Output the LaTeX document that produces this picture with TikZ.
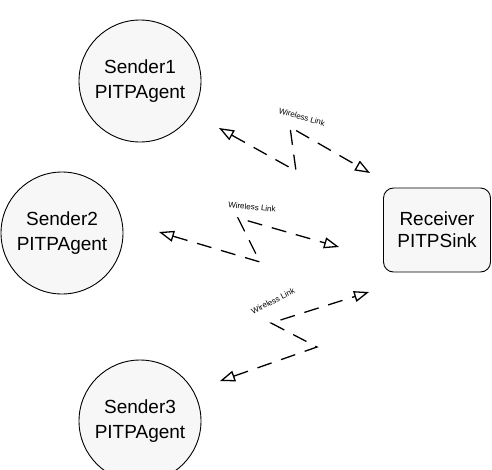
\documentclass[tikz,border=0pt]{standalone}
\usepackage{fontspec}
\setmainfont{Liberation Sans}
\usetikzlibrary{arrows.meta}
\newcommand{\lnk}{{Triangle[open,length=15pt,width=11pt]}-{Triangle[open,length=15pt,width=11pt]}}
\tikzset{
  agent/.style={circle,draw,line width=0.9pt,fill=black!3,minimum size=122pt,inner sep=0pt,align=center,font=\fontsize{19}{25}\selectfont},
  sink/.style={rectangle,rounded corners=10pt,draw,line width=0.9pt,fill=black!3,minimum width=107pt,minimum height=84pt,align=center,font=\fontsize{19}{22}\selectfont},
  wl/.style={font=\fontsize{8}{9}\selectfont},
  link/.style={line width=1.3pt,dash pattern=on 15pt off 10pt}
}

\begin{document}
\begin{tikzpicture}[x=1pt,y=-1pt]
\useasboundingbox (0,0) rectangle (492,469);
%senders and receiver
\node[agent] (s1) at (140,81)  {Sender1\\PITPAgent};
\node[agent] (s2) at (62,233)  {Sender2\\PITPAgent};
\node[agent] (s3) at (140,421) {Sender3\\PITPAgent};
\node[sink]  (rcv) at (437,230) {Receiver\\PITPSink};
%wireless link 1
\coordinate (l1a) at (219,128);
\coordinate (l1b) at (296,171);
\coordinate (l1c) at (290,127);
\coordinate (l1d) at (370,173);
\draw[link,\lnk] (l1a) -- (l1b) -- (l1c) -- (l1d);
\node[wl,rotate=-16] (w1) at (302,117) {Wireless Link};
%wireless link 2
\coordinate (l2a) at (159,232);
\coordinate (l2b) at (260,262);
\coordinate (l2c) at (238,218);
\coordinate (l2d) at (339,247);
\draw[link,\lnk] (l2a) -- (l2b) -- (l2c) -- (l2d);
\node[wl,rotate=-6] (w2) at (252,207) {Wireless Link};
%wireless link 3
\coordinate (l3a) at (220,381);
\coordinate (l3b) at (317,347);
\coordinate (l3c) at (271,323);
\coordinate (l3d) at (369,292);
\draw[link,\lnk] (l3a) -- (l3b) -- (l3c) -- (l3d);
\node[wl,rotate=27] (w3) at (273,301) {Wireless Link};
\end{tikzpicture}
\end{document}
